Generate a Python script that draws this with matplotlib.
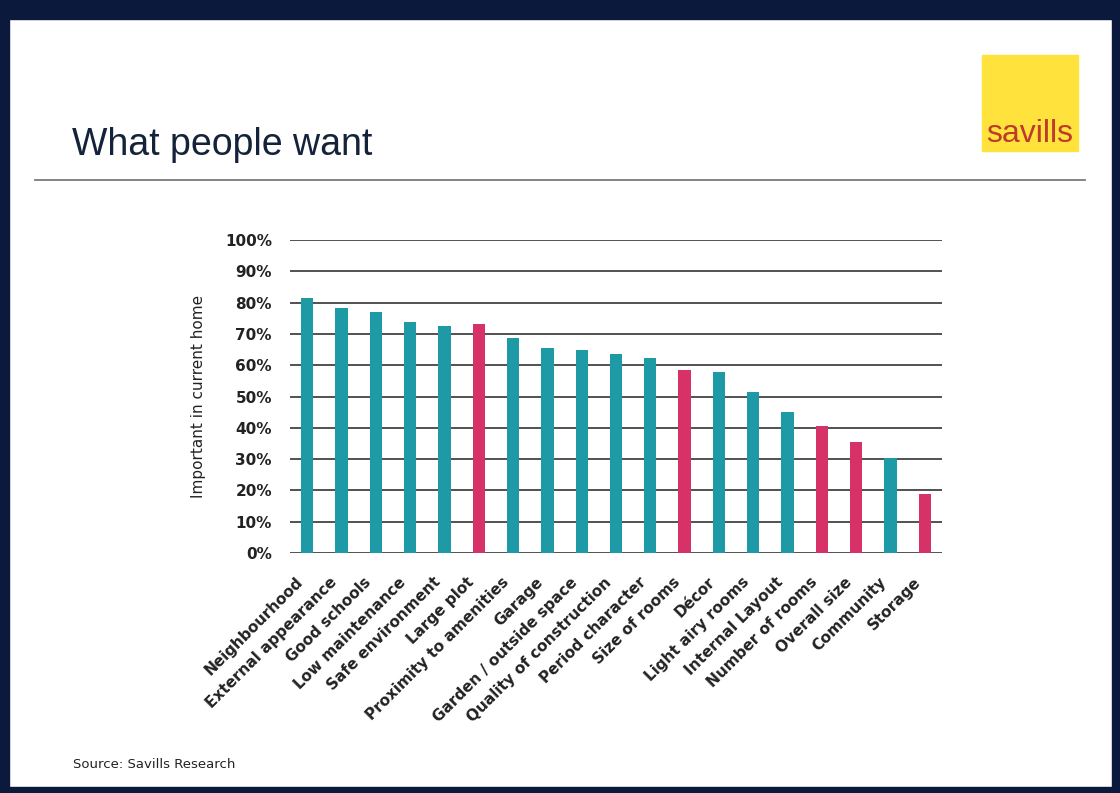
import matplotlib
matplotlib.use("Agg")
import matplotlib.pyplot as plt
from matplotlib.patches import Rectangle
from matplotlib.lines import Line2D
from matplotlib.transforms import ScaledTranslation

categories = ["Neighbourhood", "External appearance", "Good schools", "Low maintenance",
              "Safe environment", "Large plot", "Proximity to amenities", "Garage",
              "Garden / outside space", "Quality of construction", "Period character",
              "Size of rooms", "Décor", "Light airy rooms", "Internal Layout",
              "Number of rooms", "Overall size", "Community", "Storage"]
values = [81.6, 78.4, 77.1, 73.9, 72.5, 73.2, 68.6, 65.4, 64.9, 63.5, 62.2,
          58.5, 57.8, 51.3, 45.0, 40.6, 35.4, 30.3, 18.8]
highlight = [False, False, False, False, False, True, False, False, False, False, False,
             True, False, False, False, True, True, False, True]
yticks = [0, 10, 20, 30, 40, 50, 60, 70, 80, 90, 100]
ytick_labels = [f"{t}%" for t in yticks]

TEAL = "#1E9AA6"
PINK = "#D63268"
NAVY = "#0B1A3C"

plt.rcParams['font.family'] = ['Liberation Sans', 'DejaVu Sans']

W, H = 1120, 793
fig = plt.figure(figsize=(W / 100, H / 100), dpi=100)
fig.patch.set_facecolor("white")

def fx(px):
    return px / W

def fy(py):
    return 1 - py / H

# Slide frame
fig.add_artist(Rectangle((0, fy(19)), 1, 19 / H, transform=fig.transFigure, color=NAVY, zorder=0))
fig.add_artist(Rectangle((0, 0), 1, 6 / H, transform=fig.transFigure, color=NAVY, zorder=0))
fig.add_artist(Rectangle((0, 0), 9 / W, 1, transform=fig.transFigure, color=NAVY, zorder=0))
fig.add_artist(Rectangle((1 - 8 / W, 0), 8 / W, 1, transform=fig.transFigure, color=NAVY, zorder=0))

# Title and rule
fig.text(fx(72), fy(145), "What people want", fontsize=27, color="#14223A", va="center", ha="left")
fig.add_artist(Line2D([fx(35), fx(1085)], [fy(180), fy(180)], transform=fig.transFigure,
                      color="#7A7A7A", lw=1.3))

# Logo
fig.add_artist(Rectangle((fx(982), fy(151)), 96 / W, 96 / H, transform=fig.transFigure,
                         color="#FFE23C", zorder=1))
fig.text(fx(1030), fy(134), "savills", fontsize=23, color="#BE3A2A", ha="center", va="center", zorder=2)

# Source
fig.text(fx(73), fy(765), "Source: Savills Research", fontsize=9.5, color="#222222", va="center",
         family="DejaVu Sans")

# Chart
ax = fig.add_axes([fx(290), fy(553), fx(942) - fx(290), (553 - 240) / H])
x = list(range(len(categories)))
colors = [PINK if h else TEAL for h in highlight]
ax.bar(x, values, width=0.36, color=colors, zorder=3)
ax.set_xlim(-0.5, len(categories) - 0.5)
ax.set_ylim(0, 100)
ax.set_yticks(yticks)
ax.set_yticklabels(ytick_labels, fontsize=11, fontweight="bold", color="#222222",
                   family="DejaVu Sans")
ax.yaxis.grid(True, color="#333333", lw=1.2, zorder=0)
ax.set_axisbelow(True)
for s in ax.spines.values():
    s.set_visible(False)
ax.tick_params(axis="y", length=0, pad=13)
ax.tick_params(axis="x", length=0, pad=17)
ax.set_xticks(x)
ax.set_xticklabels(categories, rotation=45, ha="right", rotation_mode="anchor",
                   fontsize=11, fontweight="bold", color="#222222", family="DejaVu Sans")
offset = ScaledTranslation(-12 / 100, 2 / 100, fig.dpi_scale_trans)
for lab in ax.get_xticklabels():
    lab.set_transform(lab.get_transform() + offset)
ax.set_ylabel("Important in current home", fontsize=11, color="#222222", labelpad=14,
              family="DejaVu Sans")

fig.savefig("out.png", dpi=100, facecolor=fig.get_facecolor())
